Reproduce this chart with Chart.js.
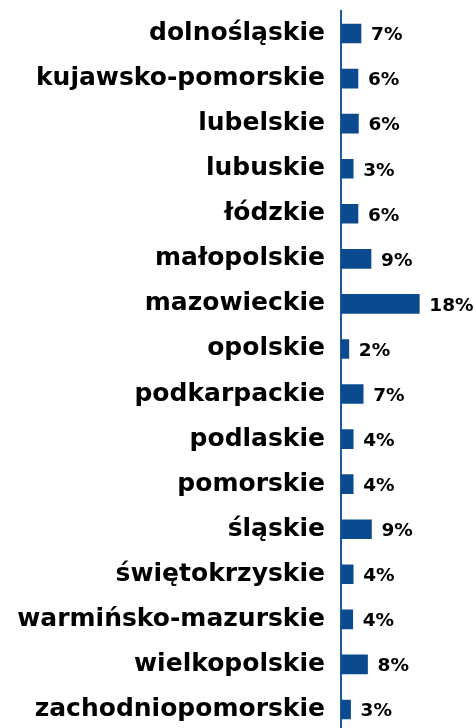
<!DOCTYPE html>
<html>
<head>
<meta charset="utf-8">
<script src="https://cdn.jsdelivr.net/npm/chart.js@4/dist/chart.umd.min.js"></script>
<style>
  html, body { margin: 0; padding: 0; background: #ffffff; overflow: hidden; }
  #c { display: block; }
</style>
</head>
<body>
<canvas id="c" width="476" height="732"></canvas>
<script>
// Categories (voivodeships)
const categories = [
  "dolnośląskie", "kujawsko-pomorskie", "lubelskie", "lubuskie", "łódzkie",
  "małopolskie", "mazowieckie", "opolskie", "podkarpackie", "podlaskie",
  "pomorskie", "śląskie", "świętokrzyskie", "warmińsko-mazurskie",
  "wielkopolskie", "zachodniopomorskie"
];
// Bar lengths (same units as the 18% bar)
const barValues = [4.6, 3.9, 4.0, 2.8, 3.9, 6.9, 18, 1.8, 5.1, 2.8, 2.8, 7.0, 2.8, 2.7, 6.1, 2.2];
// Printed value labels
const valueLabels = ["7%", "6%", "6%", "3%", "6%", "9%", "18%", "2%", "7%", "4%", "4%", "9%", "4%", "4%", "8%", "3%"];

const labelFont = "bold 18.5px 'DejaVu Sans', sans-serif";

const valueLabelPlugin = {
  id: 'valueLabels',
  afterDatasetsDraw(chart) {
    const ctx = chart.ctx;
    const meta = chart.getDatasetMeta(0);
    ctx.save();
    ctx.font = labelFont;
    ctx.fillStyle = '#000000';
    ctx.textAlign = 'left';
    ctx.textBaseline = 'middle';
    meta.data.forEach((el, i) => {
      ctx.fillText(valueLabels[i], el.x + 10, el.y + 2);
    });
    ctx.restore();
  }
};

new Chart(document.getElementById('c'), {
  type: 'bar',
  data: {
    labels: categories,
    datasets: [{
      data: barValues,
      backgroundColor: '#0b4a8e',
      borderWidth: 0,
      barThickness: 19
    }]
  },
  options: {
    indexAxis: 'y',
    responsive: false,
    animation: false,
    devicePixelRatio: 1,
    layout: { padding: { top: 11, right: 4.5, bottom: 0, left: 0 } },
    plugins: { legend: { display: false }, tooltip: { enabled: false } },
    scales: {
      x: { display: false, min: 0, max: 30 },
      y: {
        grid: { display: false, drawTicks: false },
        border: { display: true, color: '#1a5a9e', width: 2 },
        ticks: {
          color: '#000000',
          padding: 16,
          font: { family: "'DejaVu Sans', sans-serif", size: 25, weight: 'bold' }
        },
        afterFit(scale) {
          scale.width = 341;
          scale.paddingTop = 0;
          scale.paddingBottom = 0;
        }
      }
    }
  },
  plugins: [valueLabelPlugin]
});
</script>
</body>
</html>
